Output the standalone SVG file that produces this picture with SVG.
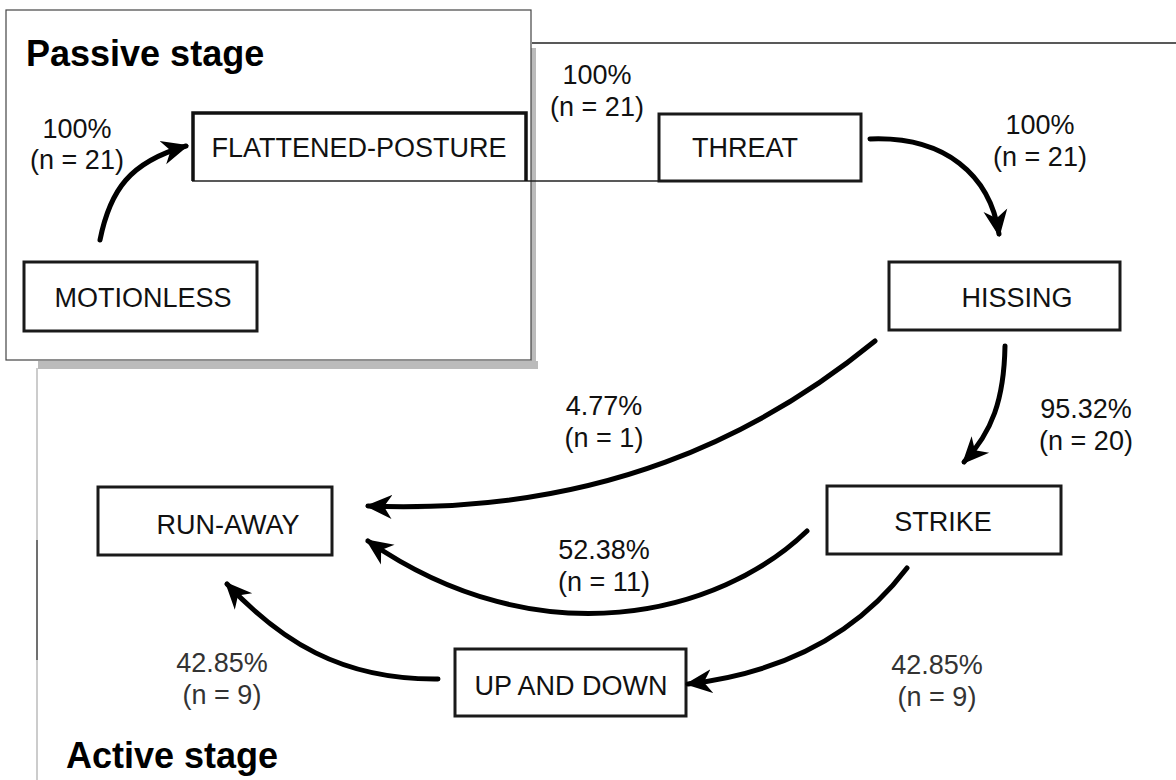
<svg xmlns="http://www.w3.org/2000/svg" width="1176" height="780" viewBox="0 0 1176 780">
<defs>
<style>
.box{fill:#fff;stroke:#1a1a1a;stroke-width:3}
.lbl{font-family:"Liberation Sans",Arial,sans-serif;font-size:27px;fill:#111;text-anchor:middle}
.pct{font-family:"Liberation Sans",Arial,sans-serif;font-size:27px;fill:#111;text-anchor:middle}
.pctg{fill:#333}
.stage{font-family:"Liberation Sans",Arial,sans-serif;font-size:36px;font-weight:bold;fill:#000}
.arr{fill:none;stroke:#000;stroke-width:5;stroke-linecap:round;marker-end:url(#ah)}
</style>
<marker id="ah" viewBox="0 0 28 26" refX="24" refY="13" markerWidth="28" markerHeight="26" markerUnits="userSpaceOnUse" orient="auto">
<path d="M0,1 L27,13 L0,25 L8,13 z" fill="#000"/>
</marker>
</defs>
<rect width="1176" height="780" fill="#fff"/>

<g id="frames">
<line x1="532" y1="43" x2="1176" y2="43" stroke="#222" stroke-width="1.5"/>
<line x1="37" y1="368" x2="37" y2="780" stroke="#aaa" stroke-width="1.2"/>
<line x1="37" y1="540" x2="37" y2="660" stroke="#333" stroke-width="1.2"/>
<rect x="38" y="361" width="500" height="8" fill="#bbb"/>
<rect x="531" y="48" width="5" height="321" fill="#bbb"/>
<rect x="6" y="10" width="525" height="350" fill="#fff" stroke="#444" stroke-width="1.2"/>
<line x1="192" y1="181" x2="660" y2="181" stroke="#222" stroke-width="1.5"/>
</g>

<g id="stage-labels">
<text class="stage" x="26" y="66">Passive stage</text>
<text class="stage" x="66" y="768">Active stage</text>
</g>

<g id="node-motionless">
<rect class="box" x="24" y="262" width="233" height="69"/>
<text class="lbl" x="143" y="307">MOTIONLESS</text>
</g>
<g id="node-flattened">
<path d="M193,181 L193,113 L526,113 L526,181" fill="none" stroke="#111" stroke-width="3.5"/>
<text class="lbl" x="359" y="157">FLATTENED-POSTURE</text>
</g>
<g id="node-threat">
<rect class="box" x="659" y="114" width="202" height="67" stroke-width="3.5"/>
<text class="lbl" x="745" y="157">THREAT</text>
</g>
<g id="node-hissing">
<rect class="box" x="889" y="262" width="231" height="68"/>
<text class="lbl" x="1017" y="307">HISSING</text>
</g>
<g id="node-strike">
<rect class="box" x="827" y="486" width="234" height="68"/>
<text class="lbl" x="943" y="531">STRIKE</text>
</g>
<g id="node-runaway">
<rect class="box" x="98" y="487" width="234" height="68"/>
<text class="lbl" x="228" y="534">RUN-AWAY</text>
</g>
<g id="node-upanddown">
<rect class="box" x="455" y="649" width="231" height="67"/>
<text class="lbl" x="571" y="695">UP AND DOWN</text>
</g>

<g id="connectors">
<path class="arr" d="M100,240 C110,190 130,162 186,146"/>
<path class="arr" d="M870,139 C945,136 990,175 999,234"/>
<path class="arr" d="M1005,346 C1004,400 992,432 964,462"/>
<path class="arr" d="M875,341 C760,435 600,515 368,506"/>
<path class="arr" d="M807,531 C720,615 540,660 368,541"/>
<path class="arr" d="M907,568 C860,630 790,672 688,684"/>
<path class="arr" d="M438,679 C340,680 280,640 227,584"/>
</g>

<g id="edge-labels">
<text class="pct" x="77" y="138">100%</text>
<text class="pct" x="77" y="169">(n = 21)</text>
<text class="pct" x="597" y="84">100%</text>
<text class="pct" x="597" y="116">(n = 21)</text>
<text class="pct" x="1040" y="134">100%</text>
<text class="pct" x="1040" y="166">(n = 21)</text>
<text class="pct" x="1086" y="418">95.32%</text>
<text class="pct" x="1086" y="450">(n = 20)</text>
<text class="pct" x="604" y="415">4.77%</text>
<text class="pct" x="604" y="447">(n = 1)</text>
<text class="pct" x="604" y="559">52.38%</text>
<text class="pct" x="604" y="591">(n = 11)</text>
<text class="pct pctg" x="937" y="674">42.85%</text>
<text class="pct pctg" x="937" y="706">(n = 9)</text>
<text class="pct pctg" x="222" y="672">42.85%</text>
<text class="pct pctg" x="222" y="704">(n = 9)</text>
</g>
</svg>
